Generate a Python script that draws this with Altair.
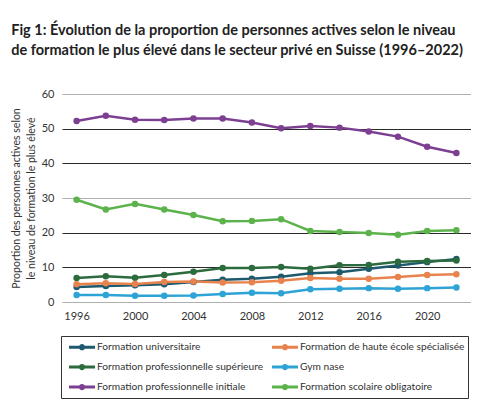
import pandas as pd
import altair as alt

years = list(range(1996, 2023, 2))

# legend fills column by column
series_names = [
    "Formation universitaire",
    "Formation professionnelle supérieure",
    "Formation professionnelle initiale",
    "Formation de haute école spécialisée",
    "Gym nase",
    "Formation scolaire obligatoire",
]
series_colors = ["#1d5a6e", "#2c6b3d", "#7d3f92", "#e8834e", "#2ea3d5", "#5cb34b"]

universitaire = [4.3, 4.6, 4.8, 5.1, 5.8, 6.4, 6.7, 7.3, 8.3, 8.6, 9.6, 10.5, 11.5, 12.4]
superieure = [6.9, 7.4, 7.0, 7.8, 8.7, 9.8, 9.8, 10.1, 9.6, 10.6, 10.7, 11.6, 11.8, 12.0]
initiale = [52.2, 53.7, 52.6, 52.5, 52.9, 52.9, 51.8, 50.1, 50.8, 50.3, 49.2, 47.7, 44.8, 43.0]
haute_ecole = [5.1, 5.4, 5.2, 5.8, 5.9, 5.6, 5.7, 6.1, 6.9, 6.7, 6.7, 7.2, 7.8, 8.0]
gymnase = [2.0, 2.0, 1.8, 1.8, 1.9, 2.3, 2.7, 2.5, 3.7, 3.8, 4.0, 3.8, 4.0, 4.2]
obligatoire = [29.5, 26.7, 28.3, 26.7, 25.1, 23.3, 23.4, 23.9, 20.5, 20.2, 19.9, 19.4, 20.5, 20.7]

x_ticks = [1996, 2000, 2004, 2008, 2012, 2016, 2020]
y_ticks = [0, 10, 20, 30, 40, 50, 60]

values = [universitaire, superieure, initiale, haute_ecole, gymnase, obligatoire]
rows = []
for name, vals in zip(series_names, values):
    for yr, v in zip(years, vals):
        rows.append({"annee": yr, "serie": name, "part": v})
df = pd.DataFrame(rows)

font = "Lato"
# line with a dot in the middle, for the legend
legend_symbol = "M-2,0L2,0M0.25,0A0.25,0.25,0,1,1,-0.25,0A0.25,0.25,0,1,1,0.25,0"

chart = alt.Chart(df).mark_line(
    strokeWidth=2.5,
    point=alt.OverlayMarkDef(filled=True, size=42),
).encode(
    x=alt.X(
        "annee:Q",
        scale=alt.Scale(domain=[1995, 2023], nice=False),
        axis=alt.Axis(values=x_ticks, format="d", title=None, grid=False,
                      domain=False, ticks=False, labelPadding=8),
    ),
    y=alt.Y(
        "part:Q",
        scale=alt.Scale(domain=[0, 60]),
        axis=alt.Axis(
            values=y_ticks, title=["Proportion des personnes actives selon",
                                   "le niveau de formation le plus élevé"],
            domain=False, ticks=False, labelPadding=8, titlePadding=5,
            gridColor={"condition": {"test": "datum.value % 30 === 0", "value": "#b0b0b0"},
                       "value": "#2a2a2a"},
        ),
    ),
    color=alt.Color(
        "serie:N",
        scale=alt.Scale(domain=series_names, range=series_colors),
        legend=alt.Legend(
            title=None, orient="none", legendX=-1, legendY=242, columns=2,
            symbolType=legend_symbol, symbolSize=169, symbolStrokeWidth=3,
            strokeColor="#333", padding=3, symbolOffset=10,
            columnPadding=2, rowPadding=4, labelOffset=7, labelLimit=300,
        ),
    ),
).properties(
    width=409,
    height=208,
    title=alt.TitleParams(
        ["Fig 1: Évolution de la proportion de personnes actives selon le niveau",
         "de formation le plus élevé dans le secteur privé en Suisse (1996–2022)"],
        anchor="start", frame="bounds", fontSize=14.5, font=font, fontWeight="bold",
        color="#222", lineHeight=20, offset=30,
    ),
    padding={"left": 3, "top": 14, "right": 0, "bottom": 0},
).configure_axis(
    labelFont=font, labelFontSize=11, labelColor="#333",
    titleFont=font, titleFontSize=10.5, titleColor="#333", titleFontWeight="normal",
    titleLineHeight=15, gridWidth=1,
).configure_legend(
    labelFont=font, labelFontSize=10.2, labelColor="#333",
).configure_view(stroke=None)

chart.save("out.html", embed_options={"renderer": "svg", "actions": False})
